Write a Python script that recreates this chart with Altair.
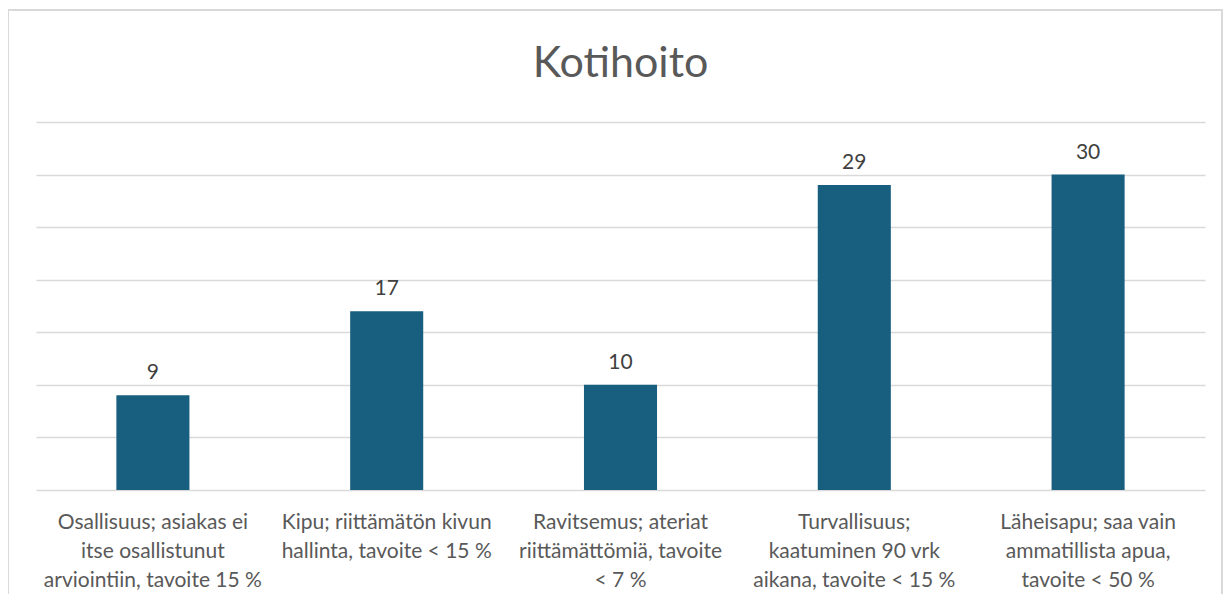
import altair as alt
import pandas as pd

title_text = "Kotihoito"
categories = [
    "Osallisuus; asiakas ei|itse osallistunut|arviointiin, tavoite 15 %",
    "Kipu; riittämätön kivun|hallinta, tavoite < 15 %",
    "Ravitsemus; ateriat|riittämättömiä, tavoite|< 7 %",
    "Turvallisuus;|kaatuminen 90 vrk|aikana, tavoite < 15 %",
    "Läheisapu; saa vain|ammatillista apua,|tavoite < 50 %",
]
values = [9, 17, 10, 29, 30]
grid_values = [0, 5, 10, 15, 20, 25, 30, 35]

df = pd.DataFrame({"cat": categories, "val": values})
title_df = pd.DataFrame({"t": [title_text]})

FONT = "Lato"
BAR = "#175E7F"
GRID = "#D9D9D9"

x = alt.X(
    "cat:N",
    sort=None,
    title=None,
    scale=alt.Scale(paddingInner=0.6875, paddingOuter=0.34375),
    axis=alt.Axis(
        labelExpr="split(datum.label, '|')",
        labelAngle=0,
        labelFont=FONT,
        labelFontSize=21,
        labelColor="#595959",
        labelLineHeight=29,
        labelPadding=21,
        labelLimit=400,
        domain=False,
        ticks=False,
        grid=False,
    ),
)
y = alt.Y(
    "val:Q",
    title=None,
    scale=alt.Scale(domain=[0, 35], nice=False),
    axis=alt.Axis(
        values=grid_values,
        labels=False,
        ticks=False,
        domain=False,
        grid=True,
        gridColor=GRID,
        gridWidth=1.3,
    ),
)

border = alt.Chart(df).mark_rect(
    fill=None, stroke=GRID, strokeWidth=2, clip=False
).encode(
    x=alt.value(-28), x2=alt.value(1186), y=alt.value(-112), y2=alt.value(600)
)

title = alt.Chart(title_df).mark_text(
    font=FONT, fontSize=43, color="#595959", baseline="alphabetic", align="center"
).encode(x=alt.value(584.5), y=alt.value(-45), text="t:N")

bars = alt.Chart(df).mark_bar(color=BAR).encode(x=x, y=y)
labels = alt.Chart(df).mark_text(
    font=FONT, fontSize=21, color="#404040", baseline="alphabetic", dy=-16
).encode(x=alt.X("cat:N", sort=None), y="val:Q", text="val:Q")

chart = alt.layer(border, title, bars, labels).properties(
    width=1169,
    height=368,
    autosize=alt.AutoSizeParams(type="none"),
    padding={"left": 28, "top": 114, "right": 18, "bottom": 104},
).configure_view(stroke=None)

chart.save("out.html", embed_options={"renderer": "svg", "actions": False})
